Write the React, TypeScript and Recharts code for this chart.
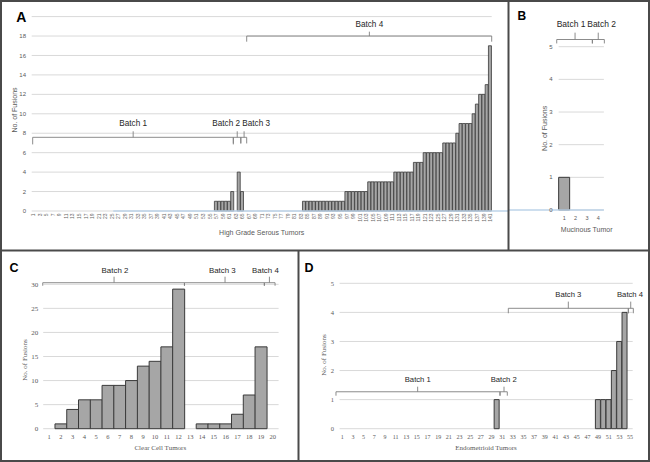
import React from 'react';
import { BarChart, Bar, XAxis, YAxis, CartesianGrid, ReferenceLine, ReferenceDot } from 'recharts';

// ---------- data ----------
const hgsValues = [
  0, 0, 0, 0, 0, 0, 0, 0, 0, 0, 0, 0, 0, 0, 0, 0, 0, 0, 0, 0,
  0, 0, 0, 0, 0, 0, 0, 0, 0, 0, 0, 0, 0, 0, 0, 0, 0, 0, 0, 0,
  0, 0, 0, 0, 0, 0, 0, 0, 0, 0, 0, 0, 0, 0, 0, 0, 1, 1, 1, 1,
  1, 2, 0, 4, 2, 0, 0, 0, 0, 0, 0, 0, 0, 0, 0, 0, 0, 0, 0, 0,
  0, 0, 0, 1, 1, 1, 1, 1, 1, 1, 1, 1, 1, 1, 1, 1, 2, 2, 2, 2,
  2, 2, 2, 3, 3, 3, 3, 3, 3, 3, 3, 4, 4, 4, 4, 4, 4, 5, 5, 5,
  6, 6, 6, 6, 6, 6, 7, 7, 7, 7, 8, 9, 9, 9, 9, 10, 11, 12, 12, 13, 17,
];
const mucValues = [1, 0, 0, 0];
const ccValues = [0, 1, 4, 6, 6, 9, 9, 10, 13, 14, 17, 29, 0, 1, 1, 1, 3, 7, 17, 0];
const endoValues = [
  0, 0, 0, 0, 0, 0, 0, 0, 0, 0, 0, 0, 0, 0, 0, 0, 0, 0, 0, 0,
  0, 0, 0, 0, 0, 0, 0, 0, 0, 1, 0, 0, 0, 0, 0, 0, 0, 0, 0, 0,
  0, 0, 0, 0, 0, 0, 0, 0, 1, 1, 1, 2, 3, 4, 0,
];

const hgsTicks = [0, 2, 4, 6, 8, 10, 12, 14, 16, 18, 20];
const mucTicks = [0, 1, 2, 3, 4, 5];
const ccTicks = [0, 5, 10, 15, 20, 25, 30];
const endoTicks = [0, 1, 2, 3, 4, 5];

const hgsBrackets = [
  { label: 'Batch 1', x1: 0.8, x2: 62.3, xc: 31.6, yLine: 7.58, yDrop: 6.85, yUp: 8.2, tx: 31.6, ty: 8.75 },
  { label: 'Batch 2', x1: 62.3, x2: 64.6, xc: 63.5, yLine: 7.58, yDrop: 6.95, yUp: 8.2, tx: 60.1, ty: 8.75 },
  { label: 'Batch 3', x1: 64.6, x2: 66.4, xc: 65.6, yLine: 7.58, yDrop: 6.95, yUp: 8.2, tx: 69.3, ty: 8.75 },
  { label: 'Batch 4', x1: 66.4, x2: 141.5, xc: 104, yLine: 18.0, yDrop: 17.42, yUp: 18.45, tx: 104, ty: 18.96 },
];
const mucBrackets = [
  { label: 'Batch 1', x1: 0.33, x2: 3.48, xc: 1.95, yLine: 5.22, yDrop: 5.1, yUp: 5.43, tx: 1.6, ty: 5.6 },
  { label: 'Batch 2', x1: 3.48, x2: 4.54, xc: 4.0, yLine: 5.22, yDrop: 5.1, yUp: 5.43, tx: 4.3, ty: 5.6 },
];
const ccBrackets = [
  { label: 'Batch 2', x1: 0.46, x2: 12.5, xc: 6.52, yLine: 30.33, yDrop: 29.7, yUp: 31.58, tx: 6.6, ty: 32.4 },
  { label: 'Batch 3', x1: 12.5, x2: 19.29, xc: 15.95, yLine: 30.33, yDrop: 29.7, yUp: 31.58, tx: 15.72, ty: 32.4 },
  { label: 'Batch 4', x1: 19.29, x2: 20.2, xc: 19.72, yLine: 30.33, yDrop: 29.7, yUp: 31.58, tx: 19.38, ty: 32.4 },
];
const endoBrackets = [
  { label: 'Batch 1', x1: -0.18, x2: 30.6, xc: 15.15, yLine: 1.27, yDrop: 1.135, yUp: 1.445, tx: 15.17, ty: 1.617 },
  { label: 'Batch 2', x1: 30.6, x2: 31.97, xc: 31.35, yLine: 1.27, yDrop: 1.135, yUp: 1.445, tx: 31.3, ty: 1.617 },
  { label: 'Batch 3', x1: 32.16, x2: 54.68, xc: 43.42, yLine: 4.14, yDrop: 3.97, yUp: 4.37, tx: 43.42, ty: 4.54 },
  { label: 'Batch 4', x1: 54.68, x2: 55.62, xc: 55.13, yLine: 4.14, yDrop: 3.97, yUp: 4.37, tx: 55.0, ty: 4.54 },
];

// ---------- styles ----------
const TXT = '#595959';
const GRID = '#d9d9d9';
const BAR_FILL = '#a6a6a6';
const BAR_STROKE = '#3a3a3a';
const BRACKET = '#7f7f7f';
const AXIS_BLUE = '#bcd3e8';
const SANS = "'Liberation Sans', Arial, sans-serif";
const SERIF = "'Liberation Serif', 'DejaVu Serif', serif";

const toRows = (vals: number[]) => vals.map((v, i) => ({ name: String(i + 1), idx: i + 1, value: v }));

const AxisTitle = (p: any) => (
  <text
    x={p.tx}
    y={p.ty}
    textAnchor="middle"
    dominantBaseline="central"
    fontSize={p.size}
    fill={TXT}
    fontFamily={p.family}
    transform={p.vertical ? `rotate(-90 ${p.tx} ${p.ty})` : undefined}
  >
    {p.txt}
  </text>
);

const bracketEls = (bs: any[], fontSize: number) =>
  bs.flatMap((b, k) => [
    <ReferenceLine key={`h${k}`} xAxisId="n" ifOverflow="visible" stroke={BRACKET} strokeWidth={0.9}
      segment={[{ x: b.x1, y: b.yLine }, { x: b.x2, y: b.yLine }]} />,
    <ReferenceLine key={`l${k}`} xAxisId="n" ifOverflow="visible" stroke={BRACKET} strokeWidth={0.9}
      segment={[{ x: b.x1, y: b.yLine }, { x: b.x1, y: b.yDrop }]} />,
    <ReferenceLine key={`r${k}`} xAxisId="n" ifOverflow="visible" stroke={BRACKET} strokeWidth={0.9}
      segment={[{ x: b.x2, y: b.yLine }, { x: b.x2, y: b.yDrop }]} />,
    <ReferenceLine key={`c${k}`} xAxisId="n" ifOverflow="visible" stroke={BRACKET} strokeWidth={0.9}
      segment={[{ x: b.xc, y: b.yLine }, { x: b.xc, y: b.yUp }]} />,
    <ReferenceDot key={`t${k}`} xAxisId="n" x={b.tx} y={b.ty} r={0} ifOverflow="visible"
      shape={(p: any) => (
        <text x={p.cx} y={p.cy} textAnchor="middle" fontSize={fontSize} fontFamily={SANS} fill="#262626">
          {b.label}
        </text>
      )} />,
  ]);

const RotTick = (p: any) => (
  <text x={p.x} y={p.y} transform={`rotate(-90 ${p.x} ${p.y})`} textAnchor="end" dominantBaseline="central"
    fontSize={5} fill="#666" fontFamily={SANS}>
    {p.payload.value}
  </text>
);

type PanelProps = {
  left: number; top: number; width: number; height: number;
  values: number[]; ticks: number[]; max: number; brackets: any[];
  margin: any; yWidth: number; xHeight: number; yTickMargin: number; xTickMargin: number;
  tickFont: string; tickSize: number; xTick?: any; interval: number; hide20?: boolean;
  xTitle: string; xTitlePos: [number, number]; yTitlePos: [number, number]; titleFont: string; titleSize: number;
  batchFont: number; barStroke: number; children?: any;
};

const Panel = (p: PanelProps) => {
  const data = toRows(p.values);
  const n = p.values.length;
  return (
    <div style={{ position: 'absolute', left: p.left, top: p.top, width: p.width, height: p.height }}>
      <BarChart width={p.width} height={p.height} data={data} margin={p.margin} barCategoryGap={0} barGap={0}>
        <CartesianGrid vertical={false} stroke={GRID} strokeWidth={1} />
        <XAxis
          dataKey="name"
          interval={p.interval}
          height={p.xHeight}
          tickLine={false}
          axisLine={false}
          tickSize={0}
          tickMargin={p.xTickMargin}
          tick={p.xTick ? p.xTick : { fontSize: p.tickSize, fill: TXT, fontFamily: p.tickFont }}
          label={<AxisTitle tx={p.xTitlePos[0]} ty={p.xTitlePos[1]} txt={p.xTitle} size={p.titleSize} family={p.titleFont} />}
        />
        <XAxis xAxisId="n" dataKey="idx" type="number" scale="linear" domain={[0.5, n + 0.5]} allowDataOverflow hide />
        <YAxis
          type="number"
          domain={[0, p.max]}
          ticks={p.ticks}
          interval={0}
          width={p.yWidth}
          tickLine={false}
          axisLine={false}
          tickSize={0}
          tickMargin={p.yTickMargin}
          tick={{ fontSize: p.tickSize + 0.5, fill: TXT, fontFamily: p.tickFont }}
          tickFormatter={(v: number) => (p.hide20 && v === 20 ? '' : String(v))}
          label={<AxisTitle tx={p.yTitlePos[0]} ty={p.yTitlePos[1]} txt="No. of Fusions" size={p.titleSize} family={p.titleFont} vertical />}
        />
        {p.children}
        <Bar dataKey="value" fill={BAR_FILL} stroke={BAR_STROKE} strokeWidth={p.barStroke} isAnimationActive={false} />
        {bracketEls(p.brackets, p.batchFont)}
      </BarChart>
    </div>
  );
};

export default function App() {
  return (
    <div style={{ position: 'absolute', left: 0, top: 0, width: 650, height: 462, background: '#fff', overflow: 'hidden' }}>
      <Panel
        left={0} top={0} width={508} height={250}
        values={hgsValues} ticks={hgsTicks} max={20} brackets={hgsBrackets}
        margin={{ top: 16.6, right: 16.3, bottom: 0, left: 6.7 }}
        yWidth={25} xHeight={39} yTickMargin={5.7} xTickMargin={2.5}
        tickFont={SANS} tickSize={5.5} xTick={<RotTick />} interval={1} hide20
        xTitle="High Grade Serous Tumors" xTitlePos={[261.7, 232]} yTitlePos={[14.5, 110]}
        titleFont={SANS} titleSize={7} batchFont={8.2} barStroke={0.8}
      >
        <ReferenceLine xAxisId="n" ifOverflow="visible" stroke={AXIS_BLUE} strokeWidth={1.3}
          segment={[{ x: 25.5, y: 0 }, { x: 146.5, y: 0 }]} />
      </Panel>
      <Panel
        left={508} top={0} width={142} height={250}
        values={mucValues} ticks={mucTicks} max={5} brackets={mucBrackets}
        margin={{ top: 46.7, right: 46.1, bottom: 0, left: 20.65 }}
        yWidth={30} xHeight={40} yTickMargin={6} xTickMargin={6}
        tickFont={SANS} tickSize={5.5} interval={0}
        xTitle="Mucinous Tumor" xTitlePos={[78.7, 229.5]} yTitlePos={[36.3, 128.3]}
        titleFont={SANS} titleSize={7} batchFont={8.5} barStroke={1}
      >
        <ReferenceLine xAxisId="n" ifOverflow="visible" stroke={AXIS_BLUE} strokeWidth={1.3}
          segment={[{ x: -4.2, y: 0 }, { x: 4.5, y: 0 }]} />
      </Panel>
      <Panel
        left={0} top={250} width={298} height={212}
        values={ccValues} ticks={ccTicks} max={30} brackets={ccBrackets}
        margin={{ top: 34.3, right: 19.4, bottom: 0, left: 13.2 }}
        yWidth={30} xHeight={33.3} yTickMargin={4.9} xTickMargin={6}
        tickFont={SERIF} tickSize={6.5} interval={0}
        xTitle="Clear Cell Tumors" xTitlePos={[160.3, 198.3]} yTitlePos={[25, 110]}
        titleFont={SERIF} titleSize={7} batchFont={7.9} barStroke={1}
      />
      <Panel
        left={298} top={250} width={352} height={212}
        values={endoValues} ticks={endoTicks} max={5} brackets={endoBrackets}
        margin={{ top: 33.3, right: 17.3, bottom: 0, left: 11.6 }}
        yWidth={30} xHeight={33.3} yTickMargin={5.6} xTickMargin={6}
        tickFont={SERIF} tickSize={6} interval={1}
        xTitle="Endometrioid Tumors" xTitlePos={[188, 198.3]} yTitlePos={[26, 105]}
        titleFont={SERIF} titleSize={7} batchFont={7.7} barStroke={1}
      />
      <svg width={650} height={462} style={{ position: 'absolute', left: 0, top: 0, pointerEvents: 'none' }}>
        <rect x={1} y={1} width={648} height={460} fill="none" stroke="#4a4a4a" strokeWidth={2} />
        <line x1={508.5} y1={0} x2={508.5} y2={251} stroke="#4a4a4a" strokeWidth={2} />
        <line x1={0} y1={250.5} x2={650} y2={250.5} stroke="#4a4a4a" strokeWidth={2} />
        <line x1={298.5} y1={250} x2={298.5} y2={462} stroke="#4a4a4a" strokeWidth={2} />
        <text x={16.3} y={21.8} fontSize={14} fontWeight="bold" fontFamily={SANS} fill="#000">A</text>
        <text x={517.5} y={20.2} fontSize={12} fontWeight="bold" fontFamily={SANS} fill="#000">B</text>
        <text x={9.5} y={272.4} fontSize={12.5} fontWeight="bold" fontFamily={SANS} fill="#000">C</text>
        <text x={304.5} y={272.4} fontSize={12.5} fontWeight="bold" fontFamily={SANS} fill="#000">D</text>
      </svg>
    </div>
  );
}
